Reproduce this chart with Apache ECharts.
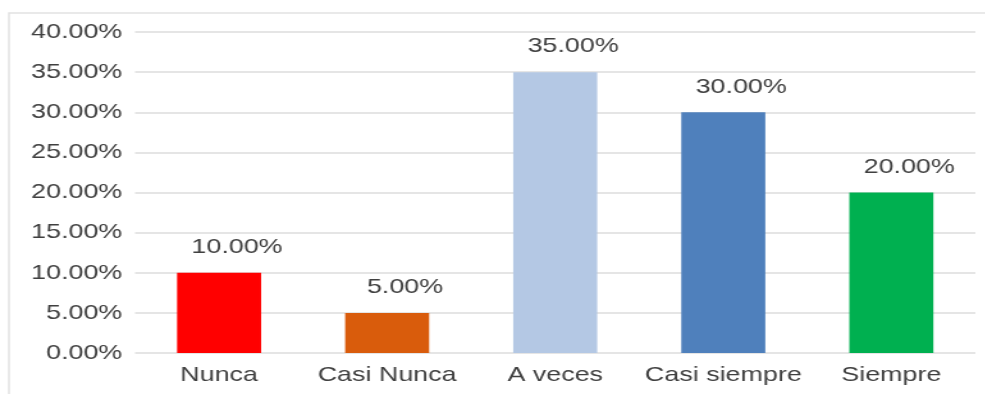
<!DOCTYPE html>
<html>
<head>
<meta charset="utf-8">
<script src="https://cdn.jsdelivr.net/npm/echarts@6/dist/echarts.min.js"></script>
<style>
  html, body { margin: 0; padding: 0; background: #fff; overflow: hidden; }
  #wrap { width: 985px; height: 394px; overflow: hidden; }
  /* the chart is laid out narrower and widened, giving the broad lettering */
  #chart { width: 770px; height: 394px; transform: scaleX(1.28); transform-origin: 0 0; }
</style>
</head>
<body>
<div id="wrap"><div id="chart"></div></div>
<script>
// Response categories and their shares (percent)
const categories = ['Nunca', 'Casi Nunca', 'A veces', 'Casi siempre', 'Siempre'];
const values = [10, 5, 35, 30, 20];
const barColors = ['#ff0000', '#d95c0c', '#b4c8e4', '#4f80bc', '#00b050'];

const chart = echarts.init(document.getElementById('chart'), null, { renderer: 'canvas' });
const font = 'Liberation Sans, Arial, sans-serif';
const textColor = '#404040';

chart.setOption({
  animation: false,
  graphic: [{
    type: 'rect',
    shape: { x: 7, y: 13, width: 1000, height: 400 },
    style: { fill: 'none', stroke: '#e2e2e2', lineWidth: 1.5 },
    silent: true
  }],
  grid: { left: 105.5, right: 8, top: 32, bottom: 41 },
  xAxis: {
    type: 'category',
    data: categories,
    axisLine: { show: false },
    axisTick: { show: false },
    axisLabel: { interval: 0, fontFamily: font, fontSize: 21, color: textColor, margin: 12 }
  },
  yAxis: {
    type: 'value',
    min: 0, max: 40, interval: 5,
    axisLine: { show: false },
    axisTick: { show: false },
    splitLine: { lineStyle: { color: '#dcdcdc', width: 1.5 } },
    axisLabel: {
      fontFamily: font, fontSize: 21, color: textColor, margin: 10,
      formatter: v => v.toFixed(2) + '%'
    }
  },
  series: [{
    type: 'bar',
    barWidth: '50%',
    data: values.map((v, i) => ({ value: v, itemStyle: { color: barColors[i] } })),
    label: {
      show: true, position: 'top', distance: 15, offset: [14, 0],
      fontFamily: font, fontSize: 21, color: textColor,
      formatter: p => p.value.toFixed(2) + '%'
    }
  }]
});
</script>
</body>
</html>
